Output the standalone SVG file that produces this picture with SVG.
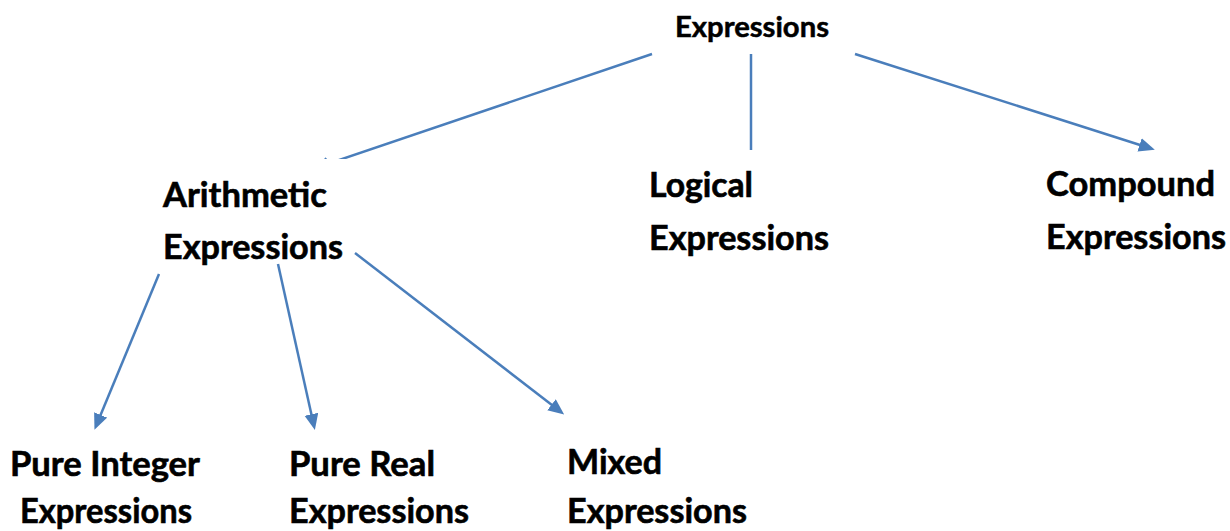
<svg xmlns="http://www.w3.org/2000/svg" width="1230" height="531" viewBox="0 0 1230 531">
  <style>
    .lbl { font-family: Lato, "Open Sans", "Liberation Sans", sans-serif; font-weight: bold; fill: #000; stroke: #000; stroke-width: 0.6; }
    .big { font-size: 34px; }
    .top { font-size: 29px; stroke-width: 0.5; }
    .conn { stroke: #4a7ebb; stroke-width: 2.5; fill: none; }
    .arr { marker-end: url(#head); }
  </style>
  <defs>
    <marker id="head" markerUnits="userSpaceOnUse" markerWidth="17" markerHeight="15" refX="12" refY="7" orient="auto">
      <path d="M0,0 L16,7 L0,14 z" fill="#4a7ebb"/>
    </marker>
    <!-- the first arrow's head sits under the text box of its target -->
    <clipPath id="aboveBox">
      <rect x="0" y="0" width="1230" height="159"/>
    </clipPath>
  </defs>
  <rect width="1230" height="531" fill="#fff"/>

  <g id="connectors">
    <line class="conn arr" x1="652" y1="54" x2="317" y2="167.5" clip-path="url(#aboveBox)"/>
    <line class="conn" x1="751" y1="54" x2="751" y2="150"/>
    <line class="conn arr" x1="855" y1="54" x2="1151" y2="148.5"/>
    <line class="conn arr" x1="159" y1="274" x2="96" y2="426"/>
    <line class="conn arr" x1="278" y1="264" x2="314" y2="426"/>
    <line class="conn arr" x1="355" y1="253" x2="561" y2="412"/>
  </g>

  <g id="expressions">
    <text class="lbl top" x="675" y="37" textLength="154" lengthAdjust="spacingAndGlyphs">Expressions</text>
  </g>
  <g id="arithmetic">
    <text class="lbl big" x="163" y="207" textLength="164" lengthAdjust="spacingAndGlyphs">Arithmetic</text>
    <text class="lbl big" x="163" y="259" textLength="180" lengthAdjust="spacingAndGlyphs">Expressions</text>
  </g>
  <g id="logical">
    <text class="lbl big" x="649" y="197" textLength="104" lengthAdjust="spacingAndGlyphs">Logical</text>
    <text class="lbl big" x="649" y="250" textLength="180" lengthAdjust="spacingAndGlyphs">Expressions</text>
  </g>
  <g id="compound">
    <text class="lbl big" x="1046" y="196" textLength="169" lengthAdjust="spacingAndGlyphs">Compound</text>
    <text class="lbl big" x="1046" y="249" textLength="180" lengthAdjust="spacingAndGlyphs">Expressions</text>
  </g>
  <g id="pure-integer">
    <text class="lbl big" x="10" y="476" textLength="190" lengthAdjust="spacingAndGlyphs">Pure Integer</text>
    <text class="lbl big" x="20" y="523" textLength="172" lengthAdjust="spacingAndGlyphs">Expressions</text>
  </g>
  <g id="pure-real">
    <text class="lbl big" x="289" y="476" textLength="146" lengthAdjust="spacingAndGlyphs">Pure Real</text>
    <text class="lbl big" x="289" y="523" textLength="180" lengthAdjust="spacingAndGlyphs">Expressions</text>
  </g>
  <g id="mixed">
    <text class="lbl big" x="567" y="474" textLength="95" lengthAdjust="spacingAndGlyphs">Mixed</text>
    <text class="lbl big" x="567" y="523" textLength="180" lengthAdjust="spacingAndGlyphs">Expressions</text>
  </g>
</svg>
